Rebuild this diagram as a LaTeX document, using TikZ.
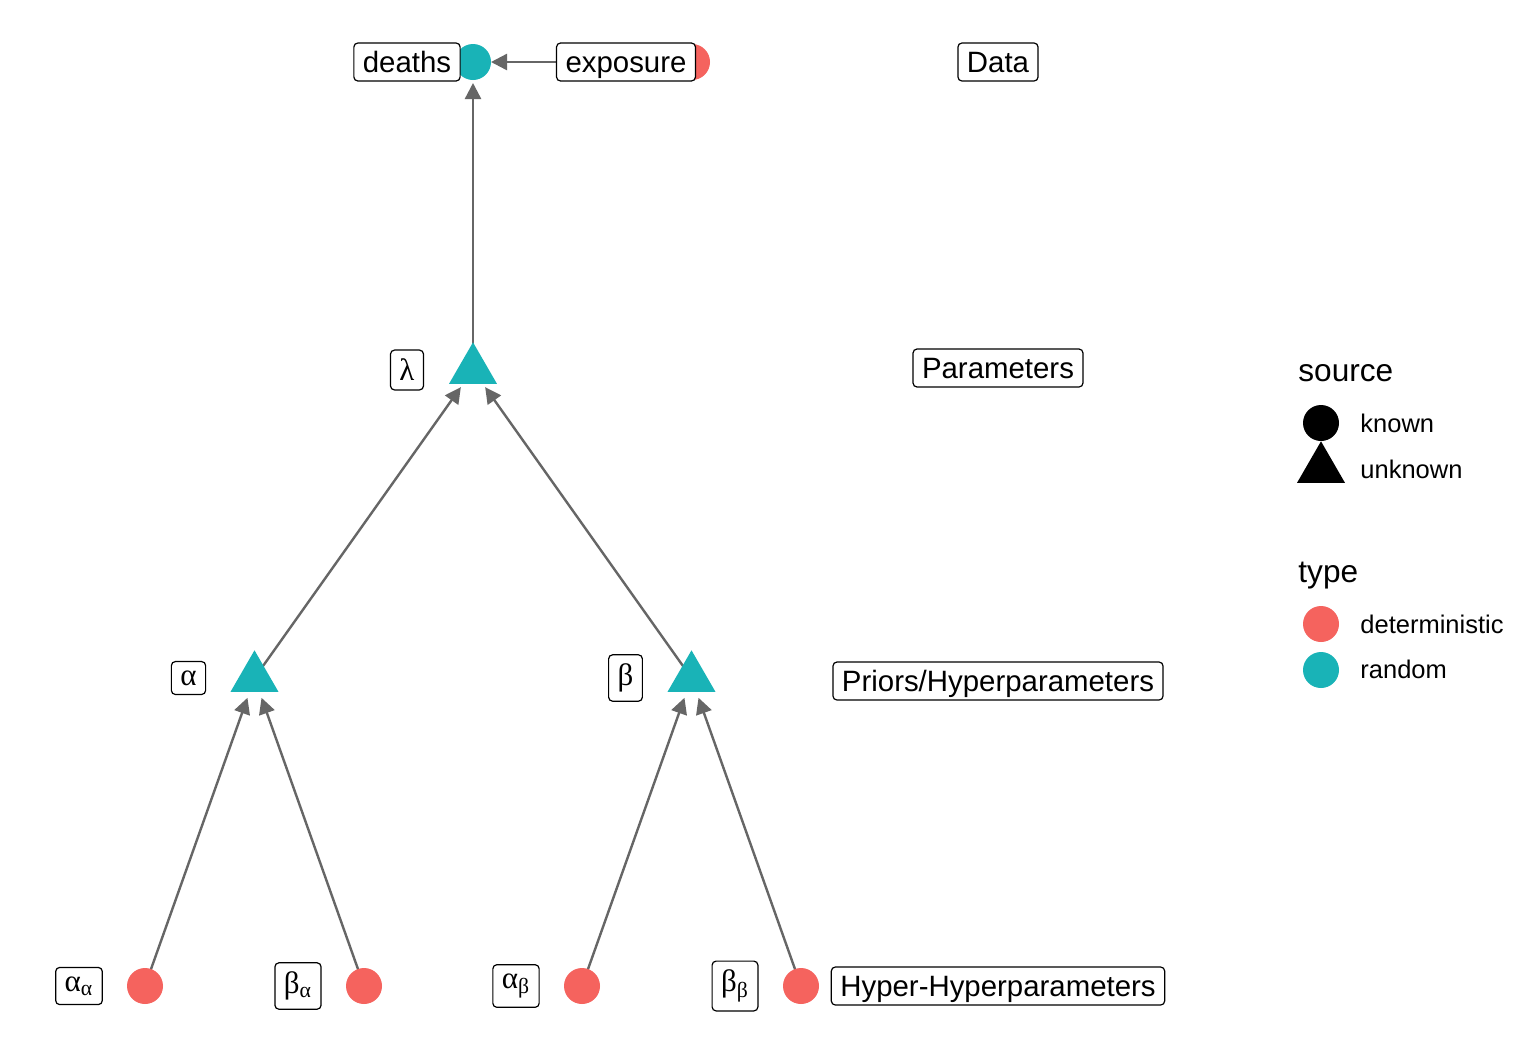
\documentclass[tikz,border=0pt]{standalone}
\usepackage{fontspec}
\setmainfont{Liberation Sans}
\newfontfamily\greekfont{Liberation Serif}
\usetikzlibrary{positioning,shapes.geometric,arrows.meta,backgrounds}
\definecolor{detred}{HTML}{F5635E}
\definecolor{rndteal}{HTML}{19B3B7}
\definecolor{edgegray}{HTML}{666666}

\begin{document}
\begin{tikzpicture}[x=0.5pt,y=-0.5pt,
    pt/.style={circle,inner sep=0pt,minimum size=18pt},
    tri/.style={regular polygon,regular polygon sides=3,inner sep=0pt,minimum size=27.7pt},
    det/.style={fill=detred},
    rnd/.style={fill=rndteal},
    lab/.style={draw,fill=white,rounded corners=2pt,line width=0.6pt,inner xsep=4.5pt,inner ysep=4.5pt,font=\fontsize{14.7}{17}\selectfont},
    wordlab/.style={lab,text height=10.5pt,text depth=0pt,inner ysep=4.25pt},
    greeklab/.style={lab,font=\fontsize{15.5}{18}\selectfont\greekfont},
    edge/.style={draw=edgegray,line width=1.2pt,-{Triangle[length=8pt,width=8pt]},shorten >=10.5pt},
    legtitle/.style={anchor=base west,inner sep=0pt,font=\fontsize{15.8}{18}\selectfont},
    legtext/.style={anchor=base west,inner sep=0pt,font=\fontsize{12.75}{15}\selectfont}]
  \useasboundingbox (0,0) rectangle (1536,1056);

  \node[pt,rnd](deaths) at (473,62) {};
  \node[pt,det](exposure) at (692,62) {};
  \node[tri,rnd](lambda) at (473,370) {};
  \node[tri,rnd](alpha) at (254.5,678) {};
  \node[tri,rnd](beta) at (691.5,678) {};
  \node[pt,det](aa) at (145,986) {};
  \node[pt,det](ba) at (364,986) {};
  \node[pt,det](ab) at (582,986) {};
  \node[pt,det](bb) at (801,986) {};

  \begin{scope}[on background layer]
    \fill[white] (0,0) rectangle (1536,1056);
    \draw[edge,shorten >=9pt] (exposure.center) -- (deaths.center);
    \draw[edge] (lambda.center) -- (deaths.center);
    \draw[edge] (alpha.center) -- (lambda.center);
    \draw[edge] (beta.center) -- (lambda.center);
    \draw[edge] (aa.center) -- (alpha.center);
    \draw[edge] (ba.center) -- (alpha.center);
    \draw[edge] (ab.center) -- (beta.center);
    \draw[edge] (bb.center) -- (beta.center);
  \end{scope}

  \node[wordlab](deathslab) at ([xshift=-33pt]deaths.center) {deaths};
  \node[wordlab](exposurelab) at ([xshift=-33pt]exposure.center) {exposure};
  \node[greeklab](lambdalab) at ([xshift=-33pt]lambda.center) {λ};
  \node[greeklab](alphalab) at ([xshift=-33pt]alpha.center) {α};
  \node[greeklab](betalab) at ([xshift=-33pt]beta.center) {β};
  \node[greeklab](aalab) at ([xshift=-33pt]aa.center) {α\textsubscript{α}};
  \node[greeklab](balab) at ([xshift=-33pt]ba.center) {β\textsubscript{α}};
  \node[greeklab](ablab) at ([xshift=-33pt]ab.center) {α\textsubscript{β}};
  \node[greeklab](bblab) at ([xshift=-33pt]bb.center) {β\textsubscript{β}};

  \node[wordlab](datalab) at (998,62) {Data};
  \node[wordlab](parlab) at (998,368) {Parameters};
  \node[wordlab](priorlab) at (998,681) {Priors/Hyperparameters};
  \node[wordlab](hyperlab) at (998,986) {Hyper-Hyperparameters};

  \node[legtitle](srctitle) at (1298,381) {source};
  \node[pt,fill=black](knownkey) at (1321,423) {};
  \node[legtext](knowntxt) at (1360,432) {known};
  \node[tri,fill=black](unknownkey) at (1321,469) {};
  \node[legtext](unknowntxt) at (1360,478) {unknown};
  \node[legtitle](typetitle) at (1298,582) {type};
  \node[pt,det](detkey) at (1321,624) {};
  \node[legtext](dettxt) at (1360,633) {deterministic};
  \node[pt,rnd](rndkey) at (1321,670) {};
  \node[legtext](rndtxt) at (1360,678) {random};
\end{tikzpicture}
\end{document}
